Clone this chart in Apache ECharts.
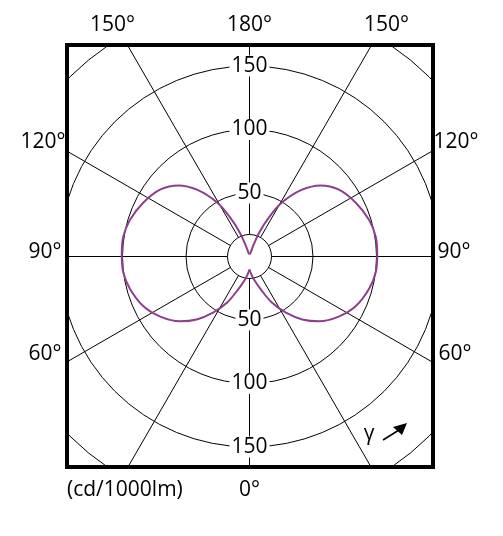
<!DOCTYPE html>
<html>
<head>
<meta charset="utf-8">
<script src="https://cdn.jsdelivr.net/npm/echarts@6/dist/echarts.min.js"></script>
<style>
html,body{margin:0;padding:0;background:#fff;}
#chart{width:503px;height:536px;}
</style>
</head>
<body>
<div id="chart"></div>
<script>
// ---- data (cd/1000lm) ----
// angle measured from 0° (bottom) through 90° (left) to 180° (top), then on to the right side
const leftAngles  = [0, 6, 11, 19, 26, 33, 40, 47, 56, 65, 75, 83, 91, 99, 107, 117, 127, 135, 142, 149, 154, 158, 161, 165, 172, 180];
const leftValues  = [10.2, 14.2, 18.4, 27.4, 40.6, 52.7, 64.7, 74.8, 84.7, 92.4, 97.6, 100.2, 100.6, 100.6, 98.5, 93.7, 87.7, 79.2, 66.5, 49.5, 33, 20, 9, 3, 1.8, 1.6];
const rightAngles = [180, 188, 195, 199, 202, 206, 211, 218, 225, 233, 243, 253, 261, 269, 277, 285, 295, 304, 313, 320, 327, 334, 341, 349, 354, 360];
const rightValues = [1.6, 1.8, 3, 9, 20, 33, 49.5, 66.5, 79.2, 87.7, 93.7, 98.5, 100.6, 100.6, 100.2, 97.6, 92.4, 84.7, 74.8, 64.7, 52.7, 40.6, 27.4, 18.4, 14.2, 10.2];
const radiusTickLabels = [50, 100, 150];
const angleLabelsTop = ['150°', '180°', '150°'];
const angleLabelsSide = ['120°', '90°', '60°'];
const bottomLabel = '0°';
const unitLabel = '(cd/1000lm)';
const gammaLabel = 'γ';

// ---- layout ----
const cx = 249.5, cy = 256.5;
const R = 254;            // pixel radius of 200 cd/1000lm
const rMax = 200;
const innerPx = 22;
const rMin = rMax * innerPx / R;
const FONT = '"Open Sans", "Noto Sans", sans-serif';
const FS = 21;

const chart = echarts.init(document.getElementById('chart'), null, {renderer: 'canvas'});

function pairs(a, v) { return a.map((ang, i) => [v[i], ang]); }

const labelFmt = function (v) { return radiusTickLabels.indexOf(Math.round(v)) >= 0 && Math.abs(v - Math.round(v)) < 1e-6 ? String(Math.round(v)) : ''; };
const labelAxisCommon = {
  type: 'value', min: rMin, max: rMax, minInterval: 50, maxInterval: 50,
  z: 5,
  axisLine: {show: false}, axisTick: {show: false}, splitLine: {show: false},
  axisLabel: {
    show: true, formatter: labelFmt, align: 'center', verticalAlign: 'middle', margin: 0,
    color: '#000', fontFamily: FONT, fontSize: FS, backgroundColor: '#fff', padding: [0, 2],
    showMinLabel: false, showMaxLabel: false, hideOverlap: false
  }
};

const option = {
  animation: false,
  backgroundColor: '#fff',
  polar: [
    {center: [cx, cy], radius: [innerPx, R]},
    {center: [cx, cy], radius: [innerPx, R]},
    {center: [cx, cy], radius: [innerPx, R]},
    {center: [cx, cy], radius: [0, R]}
  ],
  angleAxis: [
    {polarIndex: 0, type: 'value', min: 0, max: 360, interval: 30, startAngle: 270, clockwise: true,
     axisLine: {show: false}, axisTick: {show: false}, axisLabel: {show: false},
     splitLine: {show: true, lineStyle: {color: '#000', width: 1}}},
    {polarIndex: 1, type: 'value', min: 0, max: 360, startAngle: 90, show: false},
    {polarIndex: 2, type: 'value', min: 0, max: 360, startAngle: 270, show: false},
    {polarIndex: 3, type: 'value', min: 0, max: 360, startAngle: 270, clockwise: true, show: false}
  ],
  radiusAxis: [
    {polarIndex: 0, type: 'value', min: rMin, max: rMax, minInterval: 50, maxInterval: 50,
     axisLine: {show: false}, axisTick: {show: false}, axisLabel: {show: false},
     splitLine: {show: true, lineStyle: {color: '#000', width: 1}}},
    Object.assign({polarIndex: 1}, labelAxisCommon),
    Object.assign({polarIndex: 2}, labelAxisCommon),
    {polarIndex: 3, type: 'value', min: 0, max: rMax, show: false}
  ],
  series: [
    {type: 'line', coordinateSystem: 'polar', polarIndex: 3, data: pairs(leftAngles, leftValues),
     showSymbol: false, smooth: 0.35, clip: false, z: 3,
     lineStyle: {color: '#8c3f8a', width: 2}},
    {type: 'line', coordinateSystem: 'polar', polarIndex: 3, data: pairs(rightAngles, rightValues),
     showSymbol: false, smooth: 0.35, clip: false, z: 3,
     lineStyle: {color: '#8c3f8a', width: 2}}
  ],
  graphic: {
    elements: [
      // white masks outside the frame
      {type: 'rect', z: 100, shape: {x: 0, y: 0, width: 503, height: 45}, style: {fill: '#fff'}},
      {type: 'rect', z: 100, shape: {x: 0, y: 467, width: 503, height: 69}, style: {fill: '#fff'}},
      {type: 'rect', z: 100, shape: {x: 0, y: 0, width: 67, height: 536}, style: {fill: '#fff'}},
      {type: 'rect', z: 100, shape: {x: 433, y: 0, width: 70, height: 536}, style: {fill: '#fff'}},
      // frame
      {type: 'rect', z: 101, shape: {x: 67, y: 45, width: 366, height: 422}, style: {fill: 'none', stroke: '#000', lineWidth: 4}},
      // angle labels
      {type: 'text', z: 102, x: 112.5, y: 25, style: {text: angleLabelsTop[0], font: FS + 'px ' + FONT, fill: '#000', align: 'center', verticalAlign: 'middle'}},
      {type: 'text', z: 102, x: 249.5, y: 25, style: {text: angleLabelsTop[1], font: FS + 'px ' + FONT, fill: '#000', align: 'center', verticalAlign: 'middle'}},
      {type: 'text', z: 102, x: 386.5, y: 25, style: {text: angleLabelsTop[2], font: FS + 'px ' + FONT, fill: '#000', align: 'center', verticalAlign: 'middle'}},
      {type: 'text', z: 102, x: 43, y: 142, style: {text: angleLabelsSide[0], font: FS + 'px ' + FONT, fill: '#000', align: 'center', verticalAlign: 'middle'}},
      {type: 'text', z: 102, x: 45, y: 252, style: {text: angleLabelsSide[1], font: FS + 'px ' + FONT, fill: '#000', align: 'center', verticalAlign: 'middle'}},
      {type: 'text', z: 102, x: 45, y: 354, style: {text: angleLabelsSide[2], font: FS + 'px ' + FONT, fill: '#000', align: 'center', verticalAlign: 'middle'}},
      {type: 'text', z: 102, x: 456, y: 142, style: {text: angleLabelsSide[0], font: FS + 'px ' + FONT, fill: '#000', align: 'center', verticalAlign: 'middle'}},
      {type: 'text', z: 102, x: 454, y: 252, style: {text: angleLabelsSide[1], font: FS + 'px ' + FONT, fill: '#000', align: 'center', verticalAlign: 'middle'}},
      {type: 'text', z: 102, x: 455, y: 354, style: {text: angleLabelsSide[2], font: FS + 'px ' + FONT, fill: '#000', align: 'center', verticalAlign: 'middle'}},
      {type: 'text', z: 102, x: 249.5, y: 490, style: {text: bottomLabel, font: FS + 'px ' + FONT, fill: '#000', align: 'center', verticalAlign: 'middle'}},
      {type: 'text', z: 102, x: 67, y: 490, style: {text: unitLabel, font: FS + 'px ' + FONT, fill: '#000', align: 'left', verticalAlign: 'middle'}},
      // gamma + arrow
      {type: 'text', z: 102, x: 369, y: 434, style: {text: gammaLabel, font: FS + 'px ' + FONT, fill: '#000', align: 'center', verticalAlign: 'middle'}},
      {type: 'line', z: 102, shape: {x1: 383, y1: 440, x2: 399, y2: 430}, style: {stroke: '#000', lineWidth: 1.5}},
      {type: 'polygon', z: 102, shape: {points: [[407, 423], [393, 427], [402, 435]]}, style: {fill: '#000'}}
    ]
  }
};
chart.setOption(option);
</script>
</body>
</html>
